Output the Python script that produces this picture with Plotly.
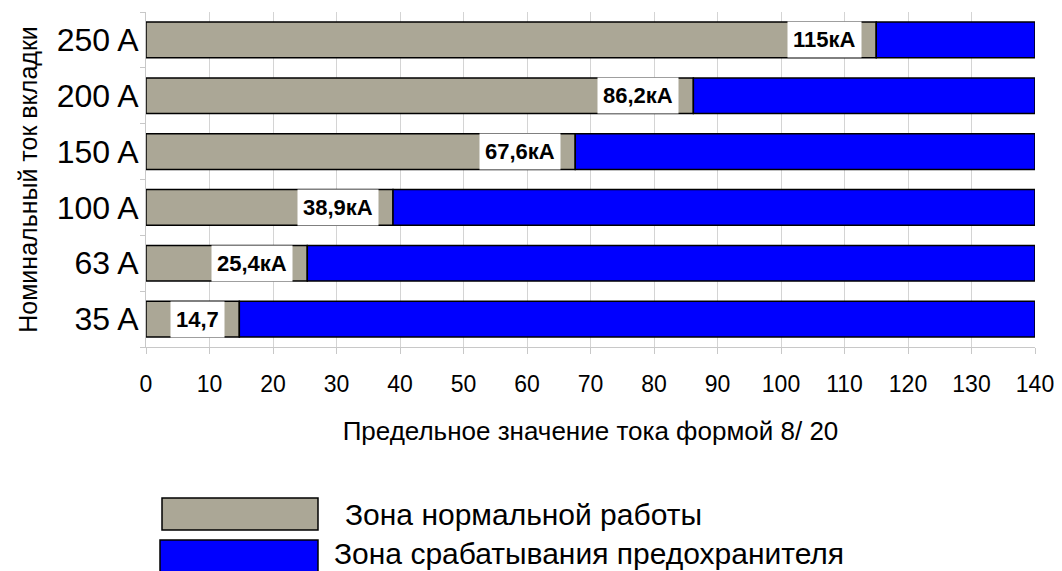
import plotly.graph_objects as go

categories = ["35 A", "63 A", "100 A", "150 A", "200 A", "250 A"]
normal_zone = [14.7, 25.4, 38.9, 67.6, 86.2, 115]
axis_max = 140
label_texts = ["14,7", "25,4кА", "38,9кА", "67,6кА", "86,2кА", "115кА"]
trip_zone = [axis_max - v for v in normal_zone]
legend_names = ["Зона нормальной работы", "Зона срабатывания предохранителя"]
gray = "#ABA796"
blue = "#0000FF"
FONT = "Liberation Sans, Arial, sans-serif"

# page offset of the figure (default body margin)
OFF = 8
W, H = 1062 - OFF, 571 - OFF
# plot area in screen pixels
L, R, T, B = 146, 1035, 12, 347
PW, PH = R - L, B - T

def px(x):
    return (x - L) / PW

def py(y):
    return (B - y) / PH

fig = go.Figure()
fig.add_trace(go.Bar(y=categories, x=normal_zone, orientation="h", name=legend_names[0],
                     marker=dict(color=gray, line=dict(color="black", width=1.5)), width=0.64))
fig.add_trace(go.Bar(y=categories, x=trip_zone, base=normal_zone, orientation="h", name=legend_names[1],
                     marker=dict(color=blue, line=dict(color="black", width=1.5)), width=0.64))

for c, v, t in zip(categories, normal_zone, label_texts):
    fig.add_annotation(x=v, y=c, text="<b>" + t + "</b>", showarrow=False, xanchor="right",
                       xshift=-14, bgcolor="white", font=dict(family=FONT, size=22, color="black"),
                       borderpad=5, height=25)

# custom legend
fig.add_shape(type="rect", xref="paper", yref="paper", x0=px(162), x1=px(318),
              y0=py(530), y1=py(498), fillcolor=gray, line=dict(color="black", width=1.5))
fig.add_shape(type="rect", xref="paper", yref="paper", x0=px(160), x1=px(318),
              y0=py(575), y1=py(540), fillcolor=blue, line=dict(color="black", width=1.5))
fig.add_annotation(xref="paper", yref="paper", x=px(343), y=py(514), text=legend_names[0],
                   showarrow=False, xanchor="left", yanchor="middle", font=dict(family=FONT, size=30, color="black"))
fig.add_annotation(xref="paper", yref="paper", x=px(332), y=py(553), text=legend_names[1],
                   showarrow=False, xanchor="left", yanchor="middle", font=dict(family=FONT, size=30, color="black"))

fig.update_layout(
    barmode="overlay", showlegend=False, width=W, height=H,
    margin=dict(l=L - OFF, r=1062 - R, t=T - OFF, b=571 - B),
    paper_bgcolor="white", plot_bgcolor="white",
    font=dict(family=FONT, color="black"),
)
fig.update_xaxes(range=[0, axis_max], dtick=10, tick0=0, showgrid=True, gridcolor="#d4d4d4", gridwidth=1,
                 zeroline=False, ticks="outside", ticklen=6, tickcolor="#c8c8c8", automargin=False,
                 ticklabelstandoff=10,
                 showline=True, linecolor="#c8c8c8", tickfont=dict(size=23, family=FONT),
                 title=dict(text="Предельное значение тока формой 8/ 20", font=dict(size=26, family=FONT), standoff=26))
fig.update_yaxes(categoryorder="array", categoryarray=categories, showgrid=False, zeroline=False,
                 showline=True, linecolor="#c8c8c8", ticks="outside", tickson="boundaries", ticklen=5,
                 tickcolor="#c8c8c8", automargin=False, tickfont=dict(size=32, family=FONT),
                 title=dict(text="Номинальный ток вкладки", font=dict(size=25, family=FONT), standoff=11))
fig.write_html("out.html")
